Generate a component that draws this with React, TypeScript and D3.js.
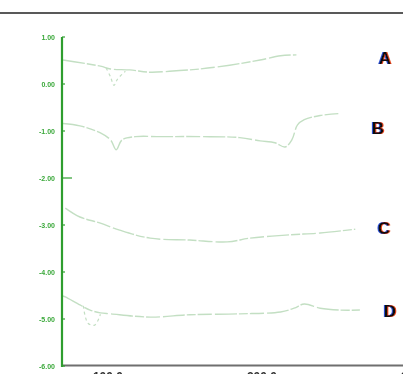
import React from "react";
import * as d3 from "d3";

const W = 403;
const H = 374;

const yTickValues = [1, 0, -1, -2, -3, -4, -5, -6];
const yTickLabels = ["1.00", "0.00", "-1.00", "-2.00", "-3.00", "-4.00", "-5.00", "-6.00"];
const xTickValues = [100, 200, 300];
const xTickLabels = ["100.0", "200.0", "300.0"];

const seriesA: [number, number][] = [[70.8,0.51],[95.1,0.38],[101.7,0.32],[114.2,0.30],[127.4,0.25],[140.0,0.27],[159.8,0.32],[179.0,0.40],[198.8,0.51],[212.1,0.60],[222.4,0.62]];
const seriesADip: [number, number][] = [[98.8,0.34],[101.7,0.15],[103.9,-0.03],[106.1,0.10],[111.3,0.27]];
const seriesB: [number, number][] = [[70.8,-0.84],[81.8,-0.89],[95.1,-1.04],[101.7,-1.19],[105.4,-1.40],[109.1,-1.19],[117.9,-1.12],[134.1,-1.12],[159.8,-1.12],[185.6,-1.14],[198.8,-1.21],[208.4,-1.25],[215.0,-1.34],[219.4,-1.19],[223.1,-0.87],[227.5,-0.76],[237.8,-0.67],[249.6,-0.63]];
const seriesC: [number, number][] = [[72.3,-2.64],[81.8,-2.83],[95.1,-2.96],[107.6,-3.11],[127.4,-3.28],[153.2,-3.32],[177.5,-3.36],[192.2,-3.28],[218.0,-3.21],[237.8,-3.17],[260.6,-3.09]];
const seriesD: [number, number][] = [[70.8,-4.51],[72.3,-4.53],[81.8,-4.70],[88.4,-4.81],[95.1,-4.87],[101.7,-4.89],[127.4,-4.96],[153.2,-4.91],[185.6,-4.89],[212.1,-4.85],[220.9,-4.77],[227.5,-4.68],[237.8,-4.77],[250.3,-4.81],[263.6,-4.81]];
const seriesDDip: [number, number][] = [[84.0,-4.72],[87.0,-5.09],[91.4,-5.13],[95.1,-4.90]];

const labelNames = ["A", "B", "C", "D"];
const labelX = [279.9, 275.3, 279.2, 283.1];
const labelY = [0.55, -0.94, -3.06, -4.83];

export default function App() {
  const x = d3.scaleLinear().domain([70.8, 291.6]).range([63, 403]);
  const y = d3.scaleLinear().domain([-6, 1]).range([366, 37]);
  const line = d3
    .line<[number, number]>()
    .x((d) => x(d[0]))
    .y((d) => y(d[1]))
    .curve(d3.curveCatmullRom.alpha(0.5));

  const mains = [seriesA, seriesB, seriesC, seriesD];
  const dips = [seriesADip, seriesDDip];
  const lineColor = "#c3dfc3";

  return (
    <svg
      width={W}
      height={H}
      style={{ position: "absolute", left: 0, top: 0, background: "#fff" }}
    >
      <defs>
        <filter id="blur" x="-10%" y="-10%" width="120%" height="120%">
          <feGaussianBlur stdDeviation="0.45" />
        </filter>
        <filter id="fringe" x="-30%" y="-30%" width="160%" height="160%">
          <feOffset in="SourceAlpha" dx={-1.2} dy={0} result="aL" />
          <feFlood floodColor="#2f52d8" result="blue" />
          <feComposite in="blue" in2="aL" operator="in" result="blueL" />
          <feOffset in="SourceAlpha" dx={1.2} dy={0} result="aR" />
          <feFlood floodColor="#e8461e" result="red" />
          <feComposite in="red" in2="aR" operator="in" result="redR" />
          <feMerge result="m">
            <feMergeNode in="blueL" />
            <feMergeNode in="redR" />
            <feMergeNode in="SourceGraphic" />
          </feMerge>
          <feGaussianBlur in="m" stdDeviation="0.4" />
        </filter>
      </defs>
      {/* top rule */}
      <line x1={0} x2={W} y1={13} y2={13} stroke="#222" strokeWidth={1.5} />

      {/* curves */}
      <g filter="url(#blur)">
        {mains.map((s, i) => (
          <path
            key={"m" + i}
            d={line(s) || ""}
            fill="none"
            stroke={lineColor}
            strokeWidth={1.4}
            strokeDasharray="22,2,9,2,14,3"
          />
        ))}
        {dips.map((s, i) => (
          <path
            key={"d" + i}
            d={line(s) || ""}
            fill="none"
            stroke={lineColor}
            strokeWidth={1.2}
            strokeDasharray="3,3"
          />
        ))}
      </g>

      {/* x axis */}
      <line x1={x(70.8)} x2={W} y1={365.5} y2={365.5} stroke="#6f6f6f" strokeWidth={2} />
      {xTickValues.map((v, i) => (
        <text
          key={"xt" + i}
          x={x(v)}
          y={381}
          textAnchor="middle"
          fontFamily="Liberation Sans, Arial, sans-serif"
          fontWeight="bold"
          fontSize={12}
          fill="#333"
          filter="url(#blur)"
        >
          {xTickLabels[i]}
        </text>
      ))}

      {/* y axis */}
      <line x1={62} x2={62} y1={y(1)} y2={y(-6) + 1} stroke="#2f9e2f" strokeWidth={2.2} />
      {yTickValues.map((v, i) => (
        <g key={"yt" + i}>
          <line
            x1={62}
            x2={i === 3 ? 72 : 65}
            y1={y(v)}
            y2={y(v)}
            stroke="#2f9e2f"
            strokeWidth={1.2}
          />
          <text
            x={55}
            y={y(v) + 2.5}
            textAnchor="end"
            fontFamily="Liberation Sans, Arial, sans-serif"
            fontWeight="bold"
            fontSize={7}
            fill="#3aa83a"
            filter="url(#blur)"
          >
            {yTickLabels[i]}
          </text>
        </g>
      ))}

      {/* curve labels with color fringes */}
      {labelNames.map((n, i) => (
        <text
          key={"l" + i}
          x={x(labelX[i])}
          y={y(labelY[i]) + 6}
          textAnchor="middle"
          fontFamily="Liberation Sans, Arial, sans-serif"
          fontWeight="bold"
          fontSize={17}
          fill="#111"
          filter="url(#fringe)"
        >
          {n}
        </text>
      ))}
    </svg>
  );
}
